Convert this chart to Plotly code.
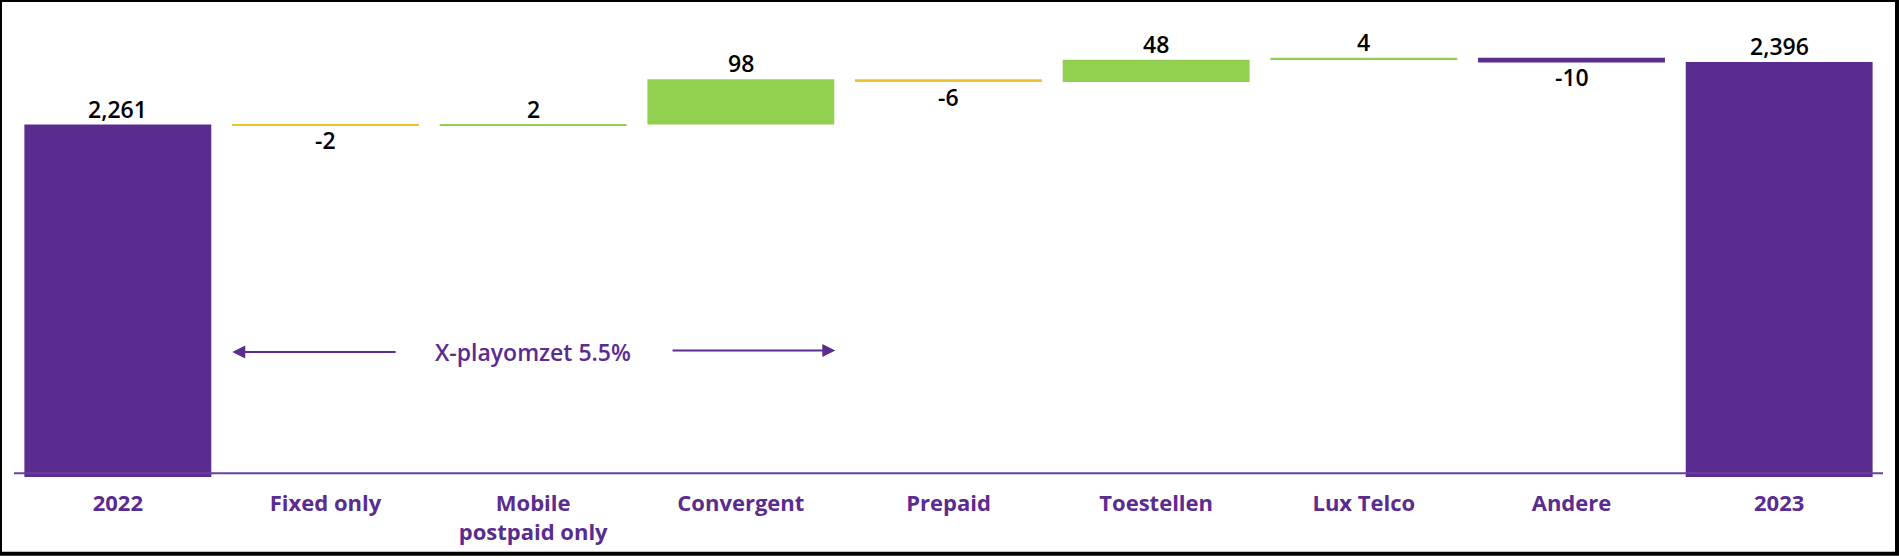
import plotly.graph_objects as go

categories = ["2022", "Fixed only", "Mobile<br>postpaid only", "Convergent", "Prepaid",
              "Toestellen", "Lux Telco", "Andere", "2023"]
values = [2261, -2, 2, 98, -6, 48, 4, -10, 2396]
measures = ["total", "relative", "relative", "relative", "relative",
            "relative", "relative", "relative", "total"]
bar_colors = ["#5B2C8F", "#F0C232", "#92D050", "#92D050", "#F0C232",
              "#92D050", "#92D050", "#5B2C8F", "#5B2C8F"]
arrow_label = "X-playomzet 5.5%"

PURPLE = "#5B2C8F"
FONT = "Open Sans"

# compute bases for waterfall
bases, tops, bottoms = [], [], []
running = 0
for v, m in zip(values, measures):
    if m == "total":
        b = 0
        running = v
        bases.append(b)
        tops.append(v)
        bottoms.append(v)
    else:
        b = running
        bases.append(b)
        running = running + v
        tops.append(max(b, running))
        bottoms.append(min(b, running))

x_idx = list(range(len(categories)))

fig = go.Figure()
fig.add_trace(go.Bar(
    x=x_idx, y=values, base=bases,
    marker=dict(color=bar_colors, line=dict(width=0)),
    width=0.9, hoverinfo="skip", showlegend=False,
))

label_font = dict(family=FONT, size=23, color="#000000", weight=600)
annotations = []
for i, (v, m) in enumerate(zip(values, measures)):
    label = f"{v:,}"
    if v >= 0:
        annotations.append(dict(x=i, y=tops[i], xref="x", yref="y", text=label,
                                showarrow=False, yanchor="bottom", yshift=-2,
                                font=label_font))
    else:
        annotations.append(dict(x=i, y=bottoms[i], xref="x", yref="y", text=label,
                                showarrow=False, yanchor="top", yshift=3,
                                font=label_font))

# X-play bracket text and arrows
arrow_y = 1770
annotations.append(dict(x=2.0, y=arrow_y, xref="x", yref="y", text=arrow_label,
                        showarrow=False, font=dict(family=FONT, size=23, color=PURPLE, weight=600)))
annotations.append(dict(x=0.551, y=arrow_y, ax=1.345, ay=arrow_y, xref="x", yref="y",
                        axref="x", ayref="y", text="", showarrow=True, arrowhead=2,
                        arrowsize=1.3, arrowwidth=2, arrowcolor=PURPLE))
annotations.append(dict(x=3.455, y=arrow_y + 3, ax=2.664, ay=arrow_y + 3, xref="x", yref="y",
                        axref="x", ayref="y", text="", showarrow=True, arrowhead=2,
                        arrowsize=1.3, arrowwidth=2, arrowcolor=PURPLE))

shapes = [
    # baseline axis line
    dict(type="line", xref="paper", yref="y", x0=0, x1=1, y0=1508, y1=1508,
         line=dict(color="#6A3FA0", width=2)),
    # outer frame
    dict(type="rect", xref="paper", yref="paper",
         x0=(0 - 14) / 1869, x1=(1897 - 14) / 1869,
         y0=(479 - 556) / 459, y1=(479 - 0) / 459,
         line=dict(color="#000000", width=4), fillcolor="rgba(0,0,0,0)", layer="above"),
]

fig.update_layout(
    width=1899, height=558,
    margin=dict(l=14, r=16, t=20, b=79),
    paper_bgcolor="white", plot_bgcolor="white",
    bargap=0.1,
    annotations=annotations,
    shapes=shapes,
    xaxis=dict(tickmode="array", tickvals=x_idx, ticktext=categories,
               range=[-0.5, len(categories) - 0.5], showgrid=False, zeroline=False,
               showline=False, ticks="", ticklabelstandoff=11,
               tickfont=dict(family=FONT, size=22, color=PURPLE, weight="bold")),
    yaxis=dict(range=[1500, 2486.7], visible=False, showgrid=False, zeroline=False),
)

fig.write_html("out.html", config={"displayModeBar": False},
               post_script="document.body.style.margin='0';document.body.style.overflow='hidden';")
